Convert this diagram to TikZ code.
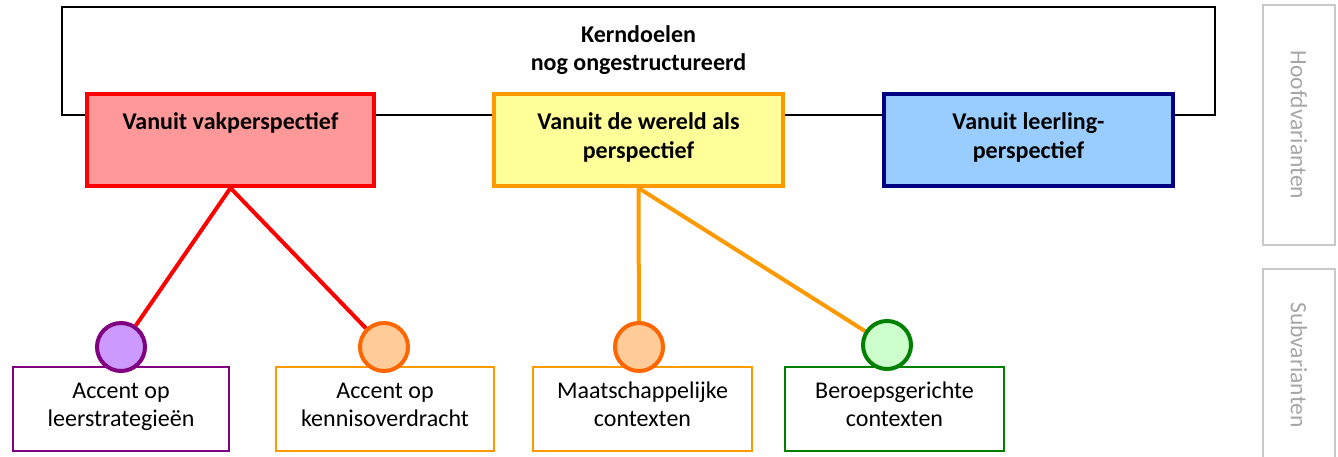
\documentclass[tikz,border=0pt]{standalone}
\usepackage{fontspec}
\setmainfont{Carlito}
\usetikzlibrary{backgrounds}

\definecolor{vakfill}{HTML}{FF9999}
\definecolor{vakline}{HTML}{FF0000}
\definecolor{wereldfill}{HTML}{FFFF99}
\definecolor{wereldline}{HTML}{FF9900}
\definecolor{leerfill}{HTML}{99CCFF}
\definecolor{leerline}{HTML}{000080}
\definecolor{paarsfill}{HTML}{CC99FF}
\definecolor{paarsline}{HTML}{800080}
\definecolor{oranjefill}{HTML}{FFCC99}
\definecolor{oranjeline}{HTML}{FF6600}
\definecolor{groenfill}{HTML}{CCFFCC}
\definecolor{groenline}{HTML}{008000}
\definecolor{zijgrijs}{HTML}{C8C8C8}
\definecolor{zijtekst}{HTML}{A6A6A6}

\newcommand{\lowerpad}{\rule[-9pt]{0pt}{9pt}}

\tikzset{
  perspbox/.style={draw, line width=4pt, minimum width=289pt, minimum height=92pt,
    inner sep=0pt, align=center, font=\bfseries\fontsize{24}{29}\selectfont},
  subbox/.style={draw, line width=1.5pt, minimum height=84pt, inner sep=0pt,
    align=center, font=\fontsize{24}{28}\selectfont},
  knot/.style={circle, draw, line width=4pt, minimum size=48pt, inner sep=0pt},
  tak/.style={line width=4pt},
  zijlabel/.style={rotate=-90, text=zijtekst, font=\fontsize{23.5}{25}\selectfont, inner sep=0pt},
  zijkader/.style={draw=zijgrijs, line width=1.5pt},
}

\begin{document}
\begin{tikzpicture}[x=1pt, y=-1pt]
\useasboundingbox (0,0) rectangle (1338,457);

% frame holding the core goals
\node[draw, line width=1.5pt, minimum width=1153pt, minimum height=108pt, inner sep=0pt]
  (kader) at (638.5,61) {};
\node[align=center, font=\bfseries\fontsize{24}{28}\selectfont, inner sep=0pt]
  (titel) at (638.5,50) {Kerndoelen\\nog ongestructureerd};

% main variants
\node[perspbox, draw=vakline, fill=vakfill, minimum width=287pt] (vak) at (230.5,140)
  {Vanuit vakperspectief\\\mbox{}\lowerpad};
\node[perspbox, draw=wereldline, fill=wereldfill] (wereld) at (638.5,140)
  {Vanuit de wereld als\\perspectief\lowerpad};
\node[perspbox, draw=leerline, fill=leerfill] (leer) at (1028.5,140)
  {Vanuit leerling-\\perspectief\lowerpad};

% sub variants
\node[subbox, draw=paarsline, minimum width=216pt] (strat) at (121,409)
  {Accent op\\leerstrategieën\lowerpad};
\node[subbox, draw=wereldline, minimum width=218pt] (kennis) at (385,409)
  {Accent op\\kennisoverdracht\lowerpad};
\node[subbox, draw=wereldline, minimum width=219pt] (maat) at (642.5,409)
  {Maatschappelijke\\contexten\lowerpad};
\node[subbox, draw=groenline, minimum width=219pt] (beroep) at (894.5,409)
  {Beroepsgerichte\\contexten\lowerpad};

% connection knots
\node[knot, draw=paarsline, fill=paarsfill] (kstrat) at (121,347) {};
\node[knot, draw=oranjeline, fill=oranjefill] (kkennis) at (384,347) {};
\node[knot, draw=oranjeline, fill=oranjefill] (kmaat) at (639,347) {};
\node[knot, draw=groenline, fill=groenfill] (kberoep) at (887,345) {};

\begin{scope}[on background layer]
  \draw[tak, vakline] (vak.south) -- (kstrat);
  \draw[tak, vakline] (vak.south) -- (kkennis);
  \draw[tak, wereldline] (wereld.south) -- (kmaat);
  \draw[tak, wereldline] (wereld.south) -- (kberoep);
\end{scope}

% side labels
\node[zijkader, rotate=-90, minimum width=240pt, minimum height=72pt, inner sep=0pt]
  (hoofd) at (1299,125) {};
\node[zijlabel] (hoofdtekst) at (hoofd.center) {Hoofdvarianten};
\node[zijlabel] (subtekst) at (1299,365) {Subvarianten};
\draw[zijkader] (1263,457) -- (1263,269) -- (1335,269) -- (1335,457);
\end{tikzpicture}
\end{document}
